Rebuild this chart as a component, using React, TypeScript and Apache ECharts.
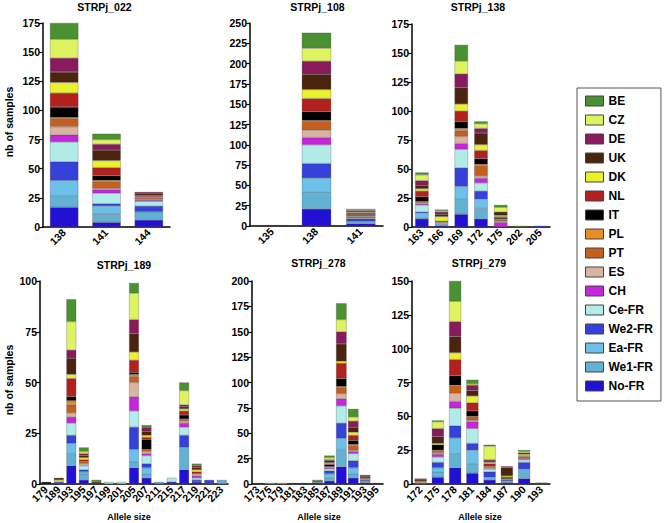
import React, { useEffect, useRef } from "react";
import * as echarts from "echarts";

const groups = ["No-FR", "We1-FR", "Ea-FR", "We2-FR", "Ce-FR", "CH", "ES", "PT", "PL", "IT", "NL", "DK", "UK", "DE", "CZ", "BE"];
const colors = ["#2211d5", "#63b2d3", "#6cc1ea", "#3541d8", "#b1ece8", "#c526dc", "#d8b4a1", "#c55f1f", "#ea8c25", "#000000", "#b3211e", "#e9f22a", "#4b2410", "#891a5b", "#ddf35f", "#4a9132"];
const legendOrder = ["BE", "CZ", "DE", "UK", "DK", "NL", "IT", "PL", "PT", "ES", "CH", "Ce-FR", "We2-FR", "Ea-FR", "We1-FR", "No-FR"];

// each row: values per group, in order of `groups` (bottom to top of the stack)
const cats022 = ["138", "141", "144"];
const vals022 = [
  [17, 10, 13, 16, 17, 6, 7, 7, 1, 9, 12, 9, 9, 12, 16, 14],
  [4, 7, 7, 2, 9, 3, 1, 6, 1, 4, 7, 6, 9, 5, 4, 5],
  [6, 7, 0, 5, 4, 1, 1, 1, 1, 0, 1, 0, 2, 1, 0, 0],
];
const cats108 = ["135", "138", "141"];
const vals108 = [
  [0, 0, 0, 0, 0, 0, 0, 0, 0, 0, 0, 0, 1, 0, 0, 0],
  [21, 21, 17, 18, 23, 9, 9, 11, 1, 11, 16, 11, 19, 16, 16, 19],
  [3, 2, 1, 3, 1, 1, 1, 1, 0, 1, 2, 1, 1, 1, 1, 1],
];
const cats138 = ["163", "166", "169", "172", "175", "202", "205"];
const vals138 = [
  [7, 1, 4, 1, 6, 1, 1, 1, 0, 4, 5, 2, 3, 4, 5, 2],
  [1, 1, 1, 0, 0, 0, 1, 0, 0, 0, 1, 4, 2, 2, 1, 1],
  [11, 13, 11, 16, 16, 5, 6, 5, 2, 6, 9, 6, 14, 12, 11, 14],
  [7, 9, 8, 7, 7, 4, 2, 9, 1, 5, 7, 5, 10, 4, 4, 2],
  [0, 0, 0, 0, 0, 4, 1, 1, 1, 1, 1, 1, 3, 0, 4, 2],
  [0, 0, 0, 0, 0, 0, 0, 0, 0, 0, 0, 0, 0, 0, 0, 1],
  [0, 0, 0, 1, 0, 0, 0, 0, 0, 0, 0, 0, 0, 0, 0, 0],
];
const cats189 = ["179", "189", "193", "195", "197", "199", "201", "205", "207", "211", "215", "217", "219", "221", "223"];
const vals189 = [
  [0, 0, 0, 0, 0, 0, 0, 0, 0, 1, 0, 0, 0, 0, 0, 0],
  [0, 0, 0, 1, 0, 0, 0, 0, 0, 0, 0, 1, 1, 0, 0, 0],
  [9, 6, 5, 4, 6, 3, 2, 4, 2, 2, 9, 2, 8, 4, 14, 11],
  [2, 3, 1, 1, 2, 0, 1, 1, 0, 0, 1, 1, 1, 1, 1, 2],
  [0, 0, 0, 0, 0, 0, 0, 0, 0, 0, 0, 0, 1, 0, 0, 1],
  [0, 0, 0, 0, 1, 0, 0, 0, 0, 0, 0, 0, 0, 0, 0, 0],
  [0, 0, 0, 0, 1, 0, 0, 0, 0, 0, 0, 0, 0, 0, 0, 0],
  [8, 3, 6, 11, 8, 7, 7, 3, 1, 1, 6, 4, 9, 7, 13, 5],
  [3, 2, 3, 2, 4, 1, 1, 1, 0, 5, 1, 1, 2, 2, 0, 1],
  [0, 1, 0, 0, 0, 0, 0, 0, 0, 0, 0, 0, 0, 0, 0, 0],
  [1, 0, 0, 0, 2, 0, 0, 0, 0, 0, 0, 0, 0, 0, 0, 0],
  [7, 10, 1, 6, 4, 2, 1, 1, 0, 2, 2, 1, 1, 1, 7, 4],
  [1, 0, 0, 1, 1, 1, 1, 0, 0, 0, 1, 1, 1, 1, 0, 1],
  [0, 0, 0, 2, 0, 0, 0, 0, 0, 0, 0, 0, 0, 0, 0, 0],
  [0, 2, 0, 0, 0, 0, 0, 0, 0, 0, 0, 0, 0, 0, 0, 0],
];
const cats278 = ["173", "175", "179", "181", "183", "185", "187", "189", "191", "193", "195"];
const vals278 = [
  [0, 0, 0, 0, 0, 0, 0, 0, 0, 0, 0, 0, 1, 0, 0, 0],
  [0, 0, 0, 0, 0, 0, 0, 0, 0, 0, 0, 0, 0, 0, 1, 0],
  [0, 0, 0, 0, 0, 0, 0, 0, 0, 0, 0, 0, 0, 0, 1, 0],
  [0, 0, 0, 0, 0, 0, 0, 0, 0, 0, 0, 0, 1, 0, 0, 0],
  [0, 0, 0, 0, 0, 0, 0, 0, 0, 0, 0, 0, 0, 1, 0, 0],
  [1, 1, 0, 0, 0, 0, 0, 0, 0, 0, 0, 0, 0, 1, 0, 1],
  [3, 3, 4, 3, 2, 1, 1, 0, 0, 2, 1, 1, 2, 1, 2, 2],
  [17, 17, 11, 15, 17, 7, 5, 6, 1, 8, 15, 2, 17, 12, 12, 16],
  [6, 4, 6, 7, 7, 2, 1, 5, 1, 4, 5, 3, 5, 6, 4, 8],
  [1, 1, 1, 1, 0, 0, 1, 1, 0, 1, 0, 0, 1, 1, 0, 0],
  [0, 0, 0, 0, 0, 0, 0, 0, 0, 0, 0, 0, 1, 0, 0, 0],
];
const cats279 = ["172", "175", "178", "181", "184", "187", "190", "193"];
const vals279 = [
  [0, 0, 0, 0, 0, 0, 0, 1, 1, 0, 0, 0, 1, 1, 0, 0],
  [5, 4, 3, 4, 4, 2, 1, 2, 0, 4, 0, 1, 5, 6, 5, 1],
  [12, 10, 12, 9, 13, 5, 6, 6, 0, 7, 12, 5, 12, 11, 15, 15],
  [8, 7, 10, 5, 11, 5, 1, 3, 0, 4, 6, 5, 4, 4, 1, 3],
  [3, 2, 0, 4, 2, 0, 1, 1, 0, 0, 2, 1, 1, 1, 10, 1],
  [1, 1, 0, 1, 0, 0, 0, 0, 1, 1, 0, 1, 6, 1, 0, 0],
  [4, 7, 0, 5, 2, 1, 0, 1, 1, 0, 0, 1, 1, 0, 1, 1],
  [0, 0, 0, 1, 0, 0, 0, 0, 0, 0, 0, 0, 0, 0, 0, 0],
];
const titles = ["STRPj_022", "STRPj_108", "STRPj_138", "STRPj_189", "STRPj_278", "STRPj_279"];
const yMax = [175, 250, 175, 100, 200, 150];

const FONT = "Liberation Sans, Arial, Helvetica, sans-serif";

export default function App() {
  const ref = useRef<HTMLDivElement>(null);
  useEffect(() => {
    document.body.style.margin = "0";
    const chart = echarts.init(ref.current!, undefined, { renderer: "svg" });
    const panels = [
      { cats: cats022, vals: vals022, grid: { left: 43, top: 23, width: 127, height: 204 }, bw: "67%", title: [104.5, 7] },
      { cats: cats108, vals: vals108, grid: { left: 250, top: 23, width: 133, height: 203 }, bw: "66%", title: [317.5, 7] },
      { cats: cats138, vals: vals138, grid: { left: 412, top: 24, width: 138, height: 203 }, bw: "68%", title: [478, 7] },
      { cats: cats189, vals: vals189, grid: { left: 40, top: 281, width: 188, height: 203 }, bw: "78%", title: [124, 265] },
      { cats: cats278, vals: vals278, grid: { left: 252, top: 281, width: 131, height: 203 }, bw: "88%", title: [318.5, 263] },
      { cats: cats279, vals: vals279, grid: { left: 412, top: 281, width: 138, height: 203 }, bw: "70%", title: [479, 263] },
    ];
    const grid: any[] = [];
    const xAxis: any[] = [];
    const yAxis: any[] = [];
    const series: any[] = [];
    const graphic: any[] = [];
    panels.forEach((p, i) => {
      grid.push({ ...p.grid, containLabel: false });
      xAxis.push({
        type: "category",
        gridIndex: i,
        data: p.cats,
        axisLine: { lineStyle: { color: "#000", width: 1.5 } },
        axisTick: { alignWithLabel: true, length: 4, lineStyle: { color: "#000", width: 1.2 } },
        axisLabel: { interval: 0, rotate: 45, margin: 4, color: "#000", fontWeight: "bold", fontSize: 10.5, fontFamily: FONT },
      });
      yAxis.push({
        type: "value",
        gridIndex: i,
        min: 0,
        max: yMax[i],
        interval: 25,
        splitLine: { show: false },
        axisLine: { show: true, lineStyle: { color: "#000", width: 1.5 } },
        axisTick: { show: true, length: 4, lineStyle: { color: "#000", width: 1.2 } },
        axisLabel: { margin: 3, color: "#000", fontWeight: "bold", fontSize: 10.5, fontFamily: FONT },
      });
      groups.forEach((g, gi) => {
        series.push({
          type: "bar",
          name: g,
          stack: "s" + i,
          xAxisIndex: i,
          yAxisIndex: i,
          barWidth: p.bw,
          data: p.vals.map((row) => (row[gi] === 0 ? "-" : row[gi])),
          itemStyle: { color: colors[gi], borderColor: "rgba(70,70,70,0.7)", borderWidth: 0.4 },
        });
      });
      graphic.push({
        type: "text",
        x: p.title[0],
        y: p.title[1],
        style: { text: titles[i], fill: "#000", font: `bold 10.5px ${FONT}`, textAlign: "center", textVerticalAlign: "middle" },
      });
    });
    graphic.push(
      { type: "text", x: 9, y: 122, rotation: Math.PI / 2, style: { text: "nb of samples", fill: "#000", font: `bold 10.5px ${FONT}`, textAlign: "center", textVerticalAlign: "middle" } },
      { type: "text", x: 9, y: 380, rotation: Math.PI / 2, style: { text: "nb of samples", fill: "#000", font: `bold 10.5px ${FONT}`, textAlign: "center", textVerticalAlign: "middle" } },
      { type: "text", x: 129, y: 517, style: { text: "Allele size", fill: "#000", font: `bold 9px ${FONT}`, textAlign: "center", textVerticalAlign: "middle" } },
      { type: "text", x: 319, y: 517, style: { text: "Allele size", fill: "#000", font: `bold 9px ${FONT}`, textAlign: "center", textVerticalAlign: "middle" } },
      { type: "text", x: 480, y: 517, style: { text: "Allele size", fill: "#000", font: `bold 9px ${FONT}`, textAlign: "center", textVerticalAlign: "middle" } }
    );
    chart.setOption({
      animation: false,
      backgroundColor: "#fff",
      grid,
      xAxis,
      yAxis,
      series,
      graphic,
      legend: {
        data: legendOrder,
        orient: "vertical",
        left: 577,
        top: 88,
        padding: [7, 8, 9, 8],
        itemWidth: 18,
        itemHeight: 10,
        itemGap: 7,
        selectedMode: false,
        borderColor: "#555",
        borderWidth: 1,
        icon: "rect",
        itemStyle: { borderColor: "#444", borderWidth: 1 },
        textStyle: { color: "#000", fontWeight: "bold", fontSize: 12, fontFamily: FONT, padding: [0, 0, 0, 0] },
      },
    });
    return () => chart.dispose();
  }, []);
  return <div ref={ref} style={{ position: "absolute", left: 0, top: 0, width: 664, height: 523 }} />;
}
